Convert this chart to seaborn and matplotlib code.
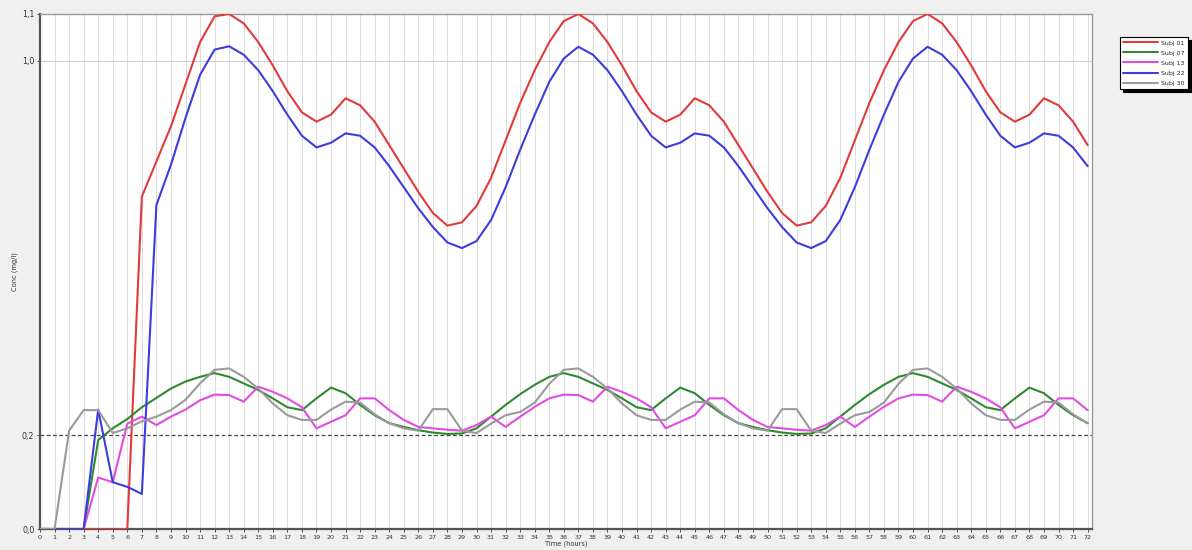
import matplotlib
matplotlib.use("Agg")
import matplotlib.pyplot as plt
import seaborn as sns
import pandas as pd
import numpy as np

# ---------------- data ----------------
hours = list(range(0, 73))

subj_01 = [0, 0, 0, 0, 0, 0, 0,
           0.71, 0.785, 0.86, 0.95, 1.04, 1.095, 1.1,
           1.08, 1.04, 0.99, 0.935, 0.89, 0.87, 0.885, 0.92, 0.905, 0.87, 0.82, 0.77,
           0.72, 0.675, 0.648, 0.655, 0.69, 0.75, 0.83, 0.91, 0.98, 1.04, 1.085, 1.1,
           1.08, 1.04, 0.99, 0.935, 0.89, 0.87, 0.885, 0.92, 0.905, 0.87, 0.82, 0.77,
           0.72, 0.675, 0.648, 0.655, 0.69, 0.75, 0.83, 0.91, 0.98, 1.04, 1.085, 1.1,
           1.08, 1.04, 0.99, 0.935, 0.89, 0.87, 0.885, 0.92, 0.905, 0.87, 0.82]

subj_07 = [0, 0, 0, 0, 0.19, 0.215, 0.235, 0.26, 0.28, 0.30, 0.315, 0.325, 0.333, 0.325,
           0.311, 0.297, 0.279, 0.26, 0.254, 0.279, 0.302, 0.29, 0.265, 0.243, 0.226, 0.218,
           0.211, 0.206, 0.203, 0.204, 0.215, 0.24, 0.265, 0.288, 0.308, 0.325, 0.333, 0.325,
           0.311, 0.297, 0.279, 0.26, 0.254, 0.279, 0.302, 0.29, 0.265, 0.243, 0.226, 0.218,
           0.211, 0.206, 0.203, 0.204, 0.215, 0.24, 0.265, 0.288, 0.308, 0.325, 0.333, 0.325,
           0.311, 0.297, 0.279, 0.26, 0.254, 0.279, 0.302, 0.29, 0.265, 0.243, 0.226]

subj_13 = [0, 0, 0, 0, 0.11, 0.10, 0.225, 0.24, 0.222, 0.24, 0.255, 0.275, 0.287, 0.286,
           0.272, 0.304, 0.293, 0.279, 0.26, 0.215, 0.229, 0.243, 0.279, 0.279, 0.254, 0.233,
           0.218, 0.215, 0.212, 0.21, 0.222, 0.24, 0.218, 0.24, 0.261, 0.279, 0.287, 0.286,
           0.272, 0.304, 0.293, 0.279, 0.26, 0.215, 0.229, 0.243, 0.279, 0.279, 0.254, 0.233,
           0.218, 0.215, 0.212, 0.21, 0.222, 0.24, 0.218, 0.24, 0.261, 0.279, 0.287, 0.286,
           0.272, 0.304, 0.293, 0.279, 0.26, 0.215, 0.229, 0.243, 0.279, 0.279, 0.254]

subj_22 = [0, 0, 0, 0, 0.255, 0.10, 0.09, 0.075,
           0.692, 0.778, 0.878, 0.97, 1.024, 1.031,
           1.013, 0.98, 0.935, 0.885, 0.84, 0.815, 0.825, 0.845, 0.84, 0.815, 0.775, 0.73,
           0.685, 0.645, 0.612, 0.6, 0.615, 0.66, 0.73, 0.81, 0.885, 0.955, 1.005, 1.03,
           1.013, 0.98, 0.935, 0.885, 0.84, 0.815, 0.825, 0.845, 0.84, 0.815, 0.775, 0.73,
           0.685, 0.645, 0.612, 0.6, 0.615, 0.66, 0.73, 0.81, 0.885, 0.955, 1.005, 1.03,
           1.013, 0.98, 0.935, 0.885, 0.84, 0.815, 0.825, 0.845, 0.84, 0.815, 0.775]

subj_30 = [0, 0, 0.21, 0.254, 0.254, 0.205, 0.215, 0.23, 0.24, 0.254, 0.276, 0.311, 0.34, 0.343,
           0.325, 0.30, 0.268, 0.243, 0.233, 0.233, 0.255, 0.272, 0.27, 0.245, 0.226, 0.215,
           0.21, 0.256, 0.256, 0.21, 0.205, 0.225, 0.243, 0.25, 0.27, 0.31, 0.34, 0.343,
           0.325, 0.30, 0.268, 0.243, 0.233, 0.233, 0.255, 0.272, 0.27, 0.245, 0.226, 0.215,
           0.21, 0.256, 0.256, 0.21, 0.205, 0.225, 0.243, 0.25, 0.27, 0.31, 0.34, 0.343,
           0.325, 0.30, 0.268, 0.243, 0.233, 0.233, 0.255, 0.272, 0.27, 0.245, 0.226]

series_names = ["Subj 01", "Subj 07", "Subj 13", "Subj 22", "Subj 30"]
series_values = [subj_01, subj_07, subj_13, subj_22, subj_30]
series_colors = ["#e23a3a", "#2f8a2f", "#e24ce2", "#3c3ce0", "#9a9a9a"]

y_ticks = [0.0, 0.2, 1.0, 1.1]
y_tick_labels = ["0,0", "0,2", "1,0", "1,1"]
reference_level = 0.2

# ---------------- long-form table ----------------
rows = []
for name, vals in zip(series_names, series_values):
    for h, v in zip(hours, vals):
        rows.append({"hour": h, "conc": v, "subject": name})
df = pd.DataFrame(rows)

# ---------------- figure ----------------
sns.set_theme(style="white")
plt.rcParams["font.family"] = ["DejaVu Sans"]

W, H = 1192, 550
fig = plt.figure(figsize=(W / 100, H / 100), dpi=100, facecolor="#f0f0f0")
ax = fig.add_axes([40 / W, 1 - 529 / H, (1092 - 40) / W, (529 - 14) / H])
ax.set_facecolor("white")

# vertical grid at every hour
for h in hours:
    ax.axvline(h, color="#dcdcdc", lw=0.7, zorder=0)
ax.axhline(1.0, color="#cfcfcf", lw=0.8, zorder=0)
ax.axhline(reference_level, color="#444444", lw=0.9, ls=(0, (3, 2)), zorder=1)

sns.lineplot(data=df, x="hour", y="conc", hue="subject", hue_order=series_names,
             palette=series_colors, linewidth=1.5, ax=ax, sort=True,
             estimator=None, zorder=3)

ax.set_xlim(0, 72.3)
ax.set_ylim(0, 1.1)
ax.set_xticks(hours)
ax.set_xticklabels([str(h) for h in hours], fontsize=4.6, color="#333333")
ax.set_yticks(y_ticks)
ax.set_yticklabels(y_tick_labels, fontsize=5.8, color="#333333")
ax.tick_params(axis="both", length=2, width=0.6, pad=2, colors="#333333")
ax.tick_params(axis="x", bottom=True)
ax.tick_params(axis="y", left=True)

ax.set_xlabel("Time (hours)", fontsize=4.8, color="#333333", labelpad=1)
ax.set_ylabel("Conc (mg/l)", fontsize=4.8, color="#333333", labelpad=3)

for side in ["left", "bottom"]:
    ax.spines[side].set_color("#555555")
    ax.spines[side].set_linewidth(1.6)
for side in ["top", "right"]:
    ax.spines[side].set_color("#999999")
    ax.spines[side].set_linewidth(1.0)

handles, labels = ax.get_legend_handles_labels()
ax.get_legend().remove()
leg = fig.legend(handles, labels, loc="upper left",
                 bbox_to_anchor=(1120 / W, 1 - 37 / H), fontsize=4.5,
                 frameon=True, fancybox=False, edgecolor="black",
                 handlelength=5.5, handletextpad=0.6, labelspacing=0.75,
                 borderpad=0.5, borderaxespad=0,
                 shadow={"color": "black", "alpha": 1.0})
leg.get_frame().set_linewidth(0.8)
for ln in leg.get_lines():
    ln.set_linewidth(1.5)

fig.savefig("out.png", dpi=100, facecolor=fig.get_facecolor())
